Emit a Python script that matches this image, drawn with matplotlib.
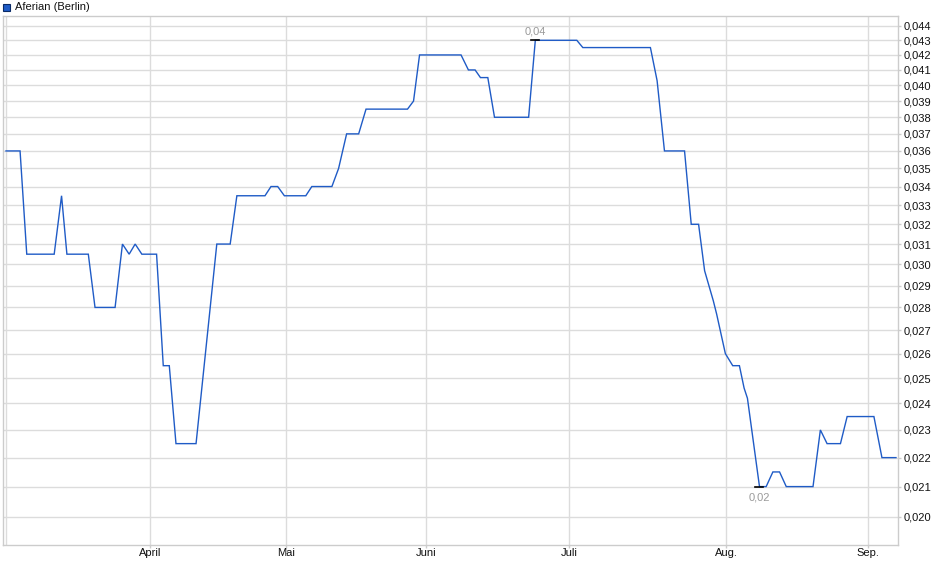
import matplotlib
matplotlib.use("Agg")
import matplotlib.pyplot as plt
from matplotlib.ticker import FixedLocator, NullLocator, NullFormatter

plt.rcParams['font.family'] = ['Liberation Sans Narrow', 'Liberation Sans', 'DejaVu Sans']

# trading-day index (x) and price in EUR (y) at the vertices of the line
day = [0.0, 2.1, 3.1, 7.2, 8.3, 9.1, 12.3, 13.3, 16.3, 17.4, 18.4, 19.3, 20.3,
       22.5, 23.5, 24.4, 25.4, 28.4, 31.5, 33.5, 34.5, 38.7, 39.6, 40.6, 41.6,
       44.8, 45.7, 48.7, 49.7, 50.9, 52.7, 53.8, 60.0, 60.9, 61.8, 68.0, 69.1,
       70.1, 70.9, 72.0, 73.0, 78.1, 79.1, 85.3, 86.2, 96.3, 97.3, 98.4, 101.4,
       102.4, 103.5, 104.4, 105.7, 106.2, 107.5, 108.6, 109.6, 110.3, 110.8,
       112.6, 113.6, 114.6, 115.6, 116.6, 120.6, 121.7, 122.7, 124.7, 125.7,
       129.7, 130.9, 133.0]
price = [0.036, 0.036, 0.0305, 0.0305, 0.0335, 0.0305, 0.0305, 0.028, 0.028,
         0.031, 0.0305, 0.031, 0.0305, 0.0305, 0.0255, 0.0255, 0.0225, 0.0225,
         0.031, 0.031, 0.0335, 0.0335, 0.034, 0.034, 0.0335, 0.0335, 0.034,
         0.034, 0.035, 0.037, 0.037, 0.0385, 0.0385, 0.039, 0.042, 0.042,
         0.041, 0.041, 0.0405, 0.0405, 0.038, 0.038, 0.043, 0.043, 0.0425,
         0.0425, 0.0403, 0.036, 0.036, 0.032, 0.032, 0.0297, 0.0283, 0.0277,
         0.026, 0.0255, 0.0255, 0.0246, 0.0242, 0.021, 0.021, 0.0215, 0.0215,
         0.021, 0.021, 0.023, 0.0225, 0.0225, 0.0235, 0.0235, 0.022, 0.022]

month_pos = [21.5, 41.9, 62.8, 84.2, 107.6, 128.8]
month_labels = ["April", "Mai", "Juni", "Juli", "Aug.", "Sep."]

y_ticks = [0.020, 0.021, 0.022, 0.023, 0.024, 0.025, 0.026, 0.027, 0.028,
           0.029, 0.030, 0.031, 0.032, 0.033, 0.034, 0.035, 0.036, 0.037,
           0.038, 0.039, 0.040, 0.041, 0.042, 0.043, 0.044]
y_tick_labels = [f"{v:.3f}".replace(".", ",") for v in y_ticks]

max_day, max_price, max_label = 79.1, 0.043, "0,04"
min_day, min_price, min_label = 112.6, 0.021, "0,02"
series_name = "Aferian (Berlin)"

grid_c = "#dcdcdc"
line_c = "#1f5bc6"

fig = plt.figure(figsize=(9.4, 5.79), dpi=100)
ax = fig.add_axes([3 / 940, 1 - 545 / 579, (898 - 3) / 940, (545 - 16) / 579])

ax.plot(day, price, color=line_c, lw=1.0, solid_joinstyle='miter', zorder=3)

ax.set_yscale('log')
ax.set_ylim(0.01912, 0.04471)
ax.set_xlim(-0.45, 133.3)

ax.yaxis.set_major_locator(FixedLocator(y_ticks))
ax.yaxis.set_minor_locator(NullLocator())
ax.yaxis.set_minor_formatter(NullFormatter())
ax.set_yticklabels(y_tick_labels)
ax.yaxis.tick_right()

ax.set_xticks(month_pos)
ax.set_xticklabels(month_labels)

ax.grid(True, color=grid_c, lw=1.0, zorder=0)
ax.axvline(0, color=grid_c, lw=1.0, zorder=0)
for s in ax.spines.values():
    s.set_color("#cccccc")
    s.set_linewidth(1.0)

ax.tick_params(axis='y', which='major', length=2.5, width=1, color="#cccccc",
               labelsize=8, pad=1.2, labelcolor="#111111")
ax.tick_params(axis='x', which='major', length=2.5, width=1, color="#cccccc",
               labelsize=8, pad=0, labelcolor="#111111")

# high / low markers
ax.plot([max_day - 0.6, max_day + 0.6], [max_price, max_price], color="black", lw=1.2, zorder=4)
ax.annotate(max_label, (max_day, max_price), xytext=(0, 2.5), textcoords='offset points',
            ha='center', va='bottom', fontsize=8, color="#9a9a9a")
ax.plot([min_day - 0.6, min_day + 0.6], [min_price, min_price], color="black", lw=1.2, zorder=4)
ax.annotate(min_label, (min_day, min_price), xytext=(0, -4.5), textcoords='offset points',
            ha='center', va='top', fontsize=8, color="#9a9a9a")

# legend
fig.patches.append(matplotlib.patches.Rectangle((3 / 940, 1 - 11 / 579), 7 / 940, 7 / 579,
                                                transform=fig.transFigure, facecolor=line_c,
                                                edgecolor="#0a2a66", lw=0.8))
fig.text(15 / 940, 1 - 6.5 / 579, series_name, fontsize=8, va='center', ha='left',
         color="#111111")

fig.savefig("out.png", dpi=100, facecolor="white")
